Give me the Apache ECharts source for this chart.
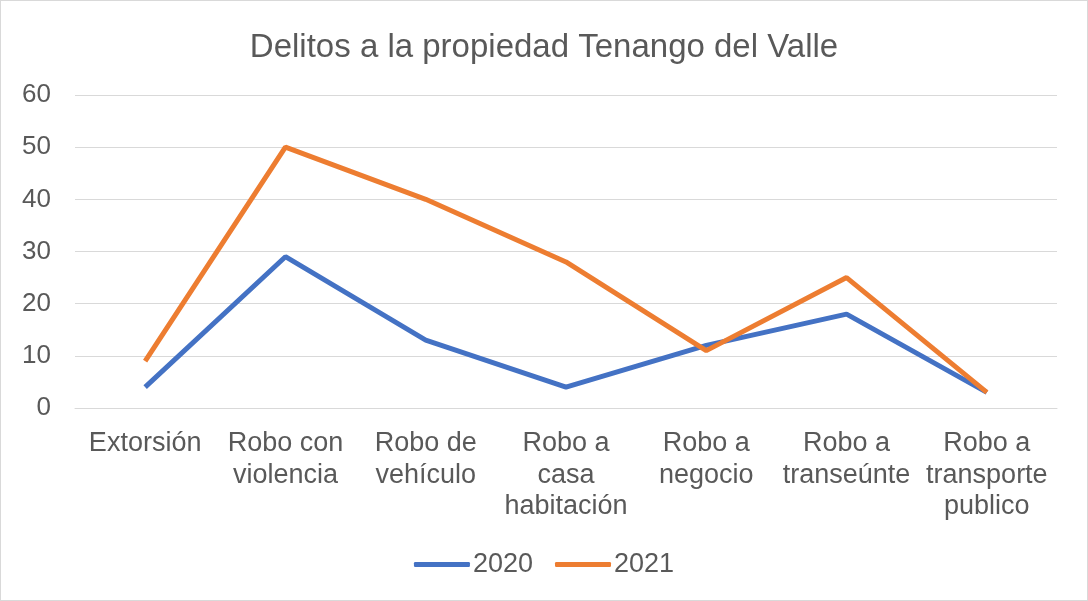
<!DOCTYPE html>
<html>
<head>
<meta charset="utf-8">
<script src="https://cdn.jsdelivr.net/npm/echarts@6/dist/echarts.min.js"></script>
<style>
  html, body { margin: 0; padding: 0; background: #fff; }
  #chart { width: 1086px; height: 599px; border: 1px solid #d9d9d9; }
</style>
</head>
<body>
<div id="chart"></div>
<script>
// categorias y valores
var categories = ['Extorsión', 'Robo con\nviolencia', 'Robo de\nvehículo', 'Robo a\ncasa\nhabitación', 'Robo a\nnegocio', 'Robo a\ntranseúnte', 'Robo a\ntransporte\npublico'];
var data2020 = [4, 29, 13, 4, 12, 18, 3];
var data2021 = [9, 50, 40, 28, 11, 25, 3];
var yTicks = { min: 0, max: 60, interval: 10 };

var font = 'Liberation Sans, Arial, sans-serif';
var myChart = echarts.init(document.getElementById('chart'));

var option = {
  animation: false,
  title: {
    text: 'Delitos a la propiedad Tenango del Valle',
    left: 'center',
    top: 25,
    textStyle: { fontFamily: font, fontSize: 33, fontWeight: 'normal', color: '#595959' }
  },
  legend: {
    bottom: 17,
    left: 'center',
    itemWidth: 56,
    itemHeight: 5,
    itemGap: 22,
    icon: 'roundRect',
    textStyle: { fontFamily: font, fontSize: 27, color: '#595959', padding: [0, 0, 0, -2] },
    data: ['2020', '2021']
  },
  grid: { left: 74, right: 30, top: 94, bottom: 192 },
  xAxis: {
    type: 'category',
    data: categories,
    boundaryGap: true,
    axisLine: { lineStyle: { color: '#d9d9d9', width: 1 } },
    axisTick: { show: false },
    axisLabel: { fontFamily: font, fontSize: 27, color: '#595959', lineHeight: 31.5, margin: 20, interval: 0 }
  },
  yAxis: {
    type: 'value',
    min: yTicks.min,
    max: yTicks.max,
    interval: yTicks.interval,
    axisLine: { show: false },
    axisTick: { show: false },
    axisLabel: { fontFamily: font, fontSize: 26, color: '#595959', margin: 24 },
    splitLine: { lineStyle: { color: '#d9d9d9', width: 1 } }
  },
  series: [
    {
      name: '2020',
      type: 'line',
      data: data2020,
      symbol: 'none',
      lineStyle: { color: '#4472c4', width: 5 },
      itemStyle: { color: '#4472c4' }
    },
    {
      name: '2021',
      type: 'line',
      data: data2021,
      symbol: 'none',
      lineStyle: { color: '#ed7d31', width: 5 },
      itemStyle: { color: '#ed7d31' }
    }
  ]
};

myChart.setOption(option);
</script>
</body>
</html>
